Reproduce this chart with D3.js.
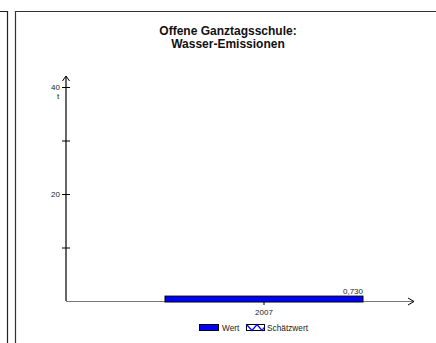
<!DOCTYPE html>
<html><head><meta charset="utf-8">
<script src="https://cdn.jsdelivr.net/npm/d3@7/dist/d3.min.js"></script>
<style>body{margin:0;background:#fff}svg{display:block;font-family:"Liberation Sans",Arial,sans-serif}</style>
</head><body>
<script>
const categories = ["2007"];
const values = [0.730];
const valueLabels = ["0,730"];
const yTicks = [10, 20, 30, 40];
const yTickLabels = {20: "20", 40: "40"};
const titleLines = ["Offene Ganztagsschule:", "Wasser-Emissionen"];
const unit = "t";
const legendItems = ["Wert", "Schätzwert"];

const W = 436, H = 343;
const svg = d3.select("body").append("svg").attr("width", W).attr("height", H);

// panel frames
svg.append("path").attr("d", "M0,11.5H7.5V343").attr("fill", "none").attr("stroke", "#222").attr("stroke-width", 1.2);
svg.append("path").attr("d", "M15.5,343V11.5H436").attr("fill", "none").attr("stroke", "#333").attr("stroke-width", 1.2);

// title
const title = svg.append("text").attr("x", 228).attr("y", 35).attr("text-anchor", "middle")
  .attr("font-size", 12).attr("font-weight", "bold").attr("fill", "#111");
titleLines.forEach((t, i) => title.append("tspan").attr("x", 228).attr("dy", i ? 12.5 : 0).text(t));

const x0 = 66, yBase = 301;
const y = d3.scaleLinear().domain([0, 40]).range([yBase, 87]);
const x = d3.scaleBand().domain(categories).range([x0, 462]).paddingInner(0.5).paddingOuter(0.25);

// y axis
const yAxis = svg.append("g").attr("transform", `translate(${x0},0)`)
  .call(d3.axisLeft(y).tickValues(yTicks).tickSize(4).tickFormat(d => yTickLabels[d] || ""));
yAxis.select(".domain").remove();
yAxis.selectAll(".tick line").attr("x2", 4).attr("x1", -4).attr("stroke", "#000");
yAxis.selectAll(".tick text").attr("x", -6).attr("font-size", 8).attr("fill", "#222").attr("font-family", "Liberation Sans, Arial");
svg.append("text").attr("x", 58).attr("y", 99).attr("font-size", 8).attr("text-anchor", "middle").attr("fill", "#222").text(unit);
svg.append("line").attr("x1", x0).attr("x2", x0).attr("y1", yBase).attr("y2", 76).attr("stroke", "#000").attr("stroke-width", 1.2);
svg.append("path").attr("d", `M${x0-3.5},81 L${x0},76 L${x0+3.5},81`).attr("fill", "none").attr("stroke", "#000").attr("stroke-width", 1);

// x axis
svg.append("line").attr("x1", x0).attr("x2", 414).attr("y1", yBase + 0.5).attr("y2", yBase + 0.5).attr("stroke", "#777").attr("stroke-width", 1.2);
svg.append("path").attr("d", `M408,${yBase-3} L414,${yBase+0.5} L408,${yBase+4}`).attr("fill", "none").attr("stroke", "#000").attr("stroke-width", 1);
const xAxis = svg.append("g").attr("transform", `translate(0,${yBase})`)
  .call(d3.axisBottom(x).tickSize(4).tickSizeOuter(0));
xAxis.select(".domain").remove();
xAxis.selectAll(".tick line").attr("stroke", "#000");
xAxis.selectAll(".tick text").attr("font-size", 8).attr("fill", "#222").attr("dy", "0.9em").attr("font-family", "Liberation Sans, Arial");

// bars
svg.selectAll("rect.bar").data(values).join("rect").attr("class", "bar")
  .attr("x", (d, i) => x(categories[i])).attr("width", x.bandwidth())
  .attr("y", d => y(d) - 1).attr("height", d => yBase - y(d) + 2)
  .attr("fill", "#0000ff").attr("stroke", "#000").attr("stroke-width", 1);
svg.selectAll("text.val").data(values).join("text").attr("class", "val")
  .attr("x", (d, i) => x(categories[i]) + x.bandwidth()).attr("y", d => y(d) - 3)
  .attr("text-anchor", "end").attr("font-size", 8).attr("fill", "#222")
  .text((d, i) => valueLabels[i]);

// legend
const lg = svg.append("g");
lg.append("rect").attr("x", 199.5).attr("y", 324.5).attr("width", 19).attr("height", 6).attr("fill", "#0000ff").attr("stroke", "#000");
lg.append("text").attr("x", 222).attr("y", 331).attr("font-size", 8.3).attr("fill", "#222").text(legendItems[0]);
lg.append("rect").attr("x", 246.5).attr("y", 324.5).attr("width", 18).attr("height", 6).attr("fill", "#fff").attr("stroke", "#000");
lg.append("path").attr("d", "M246.5,324.5 L252,330.5 L257,324.5 L262,330.5 L264.5,327").attr("fill", "none").attr("stroke", "#0000ff").attr("stroke-width", 1.2);
lg.append("text").attr("x", 267).attr("y", 331).attr("font-size", 8.3).attr("fill", "#222").text(legendItems[1]);
</script>
</body></html>
